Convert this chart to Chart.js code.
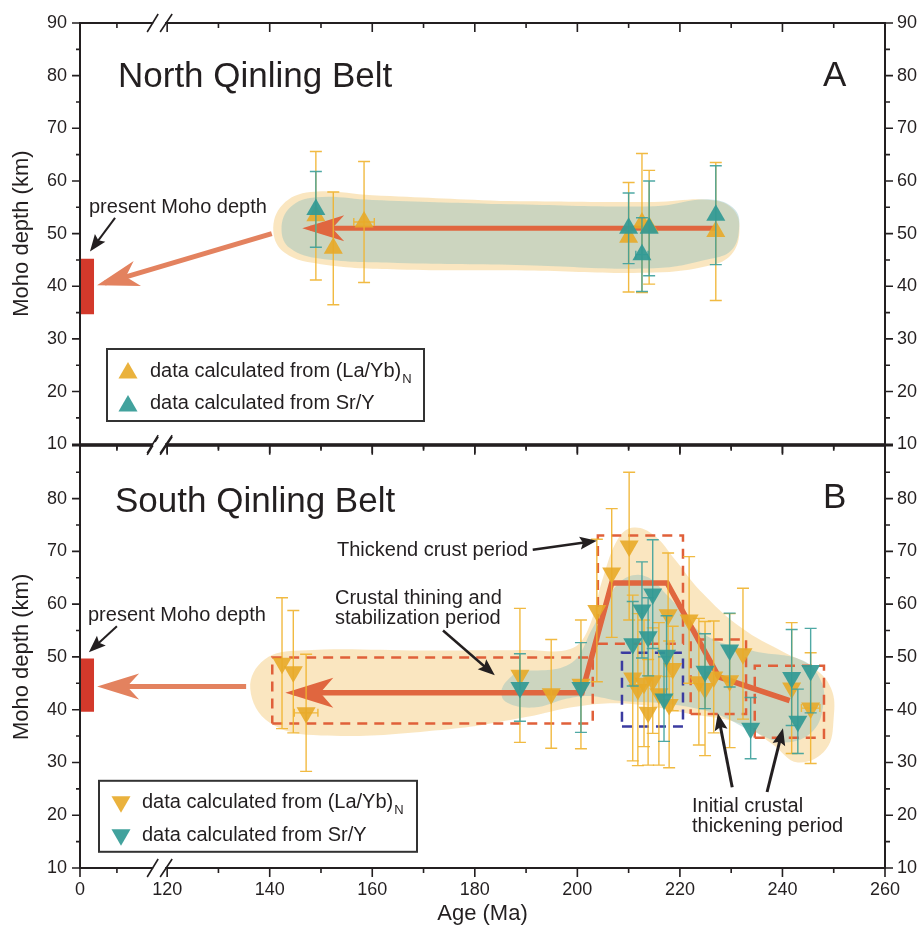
<!DOCTYPE html>
<html>
<head>
<meta charset="utf-8">
<script src="https://cdn.jsdelivr.net/npm/chart.js@4.4.0/dist/chart.umd.min.js"></script>
<style>
  html, body { margin: 0; padding: 0; background: #fff; }
  #wrap { position: relative; width: 921px; height: 937px; }
  canvas { position: absolute; left: 0; }
  #cA { top: 0; }
  #cB { top: 430px; }
</style>
</head>
<body>
<div id="wrap">
  <canvas id="cB" width="921" height="507"></canvas>
  <canvas id="cA" width="921" height="460"></canvas>
</div>
<script>
// ---- axis ticks ----
const xTickAges  = [0, 120, 140, 160, 180, 200, 220, 240, 260];
const xMinorAges = [10, 130, 150, 170, 190, 210, 230, 250];
const yTicks     = [10, 20, 30, 40, 50, 60, 70, 80, 90];
const yMinor     = [15, 25, 35, 45, 55, 65, 75, 85];

// ---- North Qinling Belt (A) ----
const nqLaAge    = [149.0, 152.4, 158.4, 210.0, 212.6, 214.0, 227.0];
const nqLaDepth  = [53.4, 47.2, 52.2, 49.3, 52.0, 51.2, 50.4];
const nqLaErr    = [12.2, 10.7, 11.5, 10.4, 13.2, 10.8, 13.1];
const nqLaAgeErr = [0, 0, 2.0, 0, 0, 0, 0];
const nqSrAge    = [149.0, 210.0, 212.6, 214.0, 227.0];
const nqSrDepth  = [54.6, 51.0, 46.0, 51.0, 53.5];
const nqSrErr    = [7.2, 6.7, 7.0, 9.0, 9.4];
const nqSrAgeErr = [0, 0, 1.2, 0, 0];
const nqTrendAge   = [227.0, 147.9];
const nqTrendDepth = [51.0, 51.0];
const nqPresent    = [34.7, 45.2];          // present Moho depth range
const nqArrowAge   = [140.4, 6.7];
const nqArrowDepth = [50.0, 40.6];
const nqBlobLa = [[185,56.2],[215,56.0],[226,56.4],[230.5,54.5],[231.6,50.2],[230,46],[226,44],[215,42.6],[190,43.0],
                  [165,43.2],[150,44.2],[143,46.3],[140.7,50.5],[142.5,55.5],[148,57.9],[160,57.3],[185,56.2]];
const nqBlobSr = [[185,55.6],[215,55.2],[226,56.5],[230.8,54.5],[231.5,50.5],[230,46.8],[226,45.2],[215,43.4],[190,44.0],
                  [165,44.4],[150,45.2],[144,47.2],[142.3,50.8],[144,55],[149,56.9],[160,56.4],[185,55.6]];

// ---- South Qinling Belt (B) ----
const sqLaAge    = [142.4, 144.6, 147.1, 188.8, 194.9, 200.7, 203.8, 206.7, 210.1, 210.8, 211.8, 213.0, 213.8, 214.7,
                    215.9, 217.7, 217.9, 218.6, 221.8, 223.7, 224.9, 226.6, 229.7, 232.3, 241.8, 245.5];
const sqLaDepth  = [48.8, 47.2, 39.4, 46.5, 43.0, 44.8, 58.8, 65.9, 71.0, 46.0, 43.8, 45.0, 39.5, 45.5,
                    43.0, 58.0, 41.0, 47.8, 57.0, 45.3, 44.0, 46.2, 45.5, 50.6, 44.1, 40.3];
const sqLaErr    = [12.4, 11.6, 11.1, 12.7, 10.3, 12.2, 13.5, 12.2, 14.0, 15.7, 14.4, 12.0, 10.0, 10.0,
                    13.5, 11.7, 12.0, 8.0, 12.0, 12.0, 12.7, 10.6, 12.7, 12.4, 12.4, 10.5];
const sqLaAgeErr = [0, 0, 2.3, 0, 0, 0, 0, 0, 0, 0, 0, 0, 0, 0, 0, 0, 0, 0, 0, 0, 0, 0, 0, 0, 0, 1.8];
const sqSrAge    = [188.8, 200.7, 210.8, 212.6, 213.8, 214.7, 216.9, 217.4, 224.9, 229.7, 233.8, 241.8, 243.0, 245.5];
const sqSrDepth  = [44.2, 44.2, 52.5, 58.9, 53.8, 61.9, 42.0, 50.3, 47.3, 51.3, 36.5, 46.1, 37.8, 47.4];
const sqSrErr    = [6.4, 8.5, 8.0, 9.1, 7.4, 10.3, 8.0, 7.5, 7.1, 7.0, 5.8, 9.1, 6.1, 8.0];
const sqTrendAge   = [241.4, 227.6, 217.5, 206.7, 200.9, 144.6];
const sqTrendDepth = [41.7, 46.2, 64.0, 64.0, 43.2, 43.2];
const sqPresent    = [39.6, 49.7];
const sqArrowAge   = [135.4, 6.8];
const sqArrowDepth = [44.4, 44.4];
// period boxes: [age from, age to, depth from, depth to]
const sqPeriodBoxes = [[140.5, 203.0, 37.4, 49.9], [204.0, 220.6, 52.5, 73.0], [222.1, 232.9, 39.2, 53.3], [234.6, 248.1, 34.7, 48.3]];
const sqBlueBox     = [208.7, 220.6, 36.8, 50.8];
const sqBlobLa = [[170,51.2],[190,51.3],[198.6,51.5],[202,55],[205,65],[208,72.5],[211,74.5],[215,73],[219,68.5],[224,62.5],
                  [232,55.5],[240,51],[246,48],[249.5,44],[250,38.5],[248.5,32.5],[243,30],[238,33.5],[232,37.3],[222,39.2],
                  [210,41.1],[200,40.6],[190,38.6],[175,36.3],[150,35.1],[140,37.5],[136.2,44],[139,49.5],[146,51.2],[170,51.2]];
const sqBlobSr = [[188,47.2],[198.6,48.7],[203,55.5],[208,63.9],[213,65.4],[218,61.2],[224.5,54.4],[234,51.2],[244,49.3],
                  [247.5,45.5],[248,41.1],[246,36],[240.5,33.8],[234,36],[227,39.2],[217.5,41.1],[208,41.7],[202.5,42.6],
                  [198,42.1],[191.5,40.4],[186,41.5],[185.3,44],[188,47.2]];

const FONT = "'Liberation Sans', Arial, Helvetica, sans-serif";
const INK = '#231f20';
const YEL = 'rgba(232,170,40,0.9)', YEL_ERR = 'rgba(240,178,45,0.9)';
const TEA = 'rgba(50,154,149,0.92)', TEA_ERR = 'rgba(60,160,155,0.9)';
const MARK = 11;

// broken axis: 0..~20 Ma squeezed in front of 120 Ma
const X = age => (age < 60 ? 103 + age * 0.72 : age);
const pts = (ages, depths) => ages.map((a, i) => ({ x: X(a), y: depths[i] }));
const loop = list => list.map(([a, d]) => ({ x: X(a), y: d }));
const rect = ([a0, a1, d0, d1]) => [
  { x: X(a0), y: d0 }, { x: X(a1), y: d0 }, { x: X(a1), y: d1 }, { x: X(a0), y: d1 }, { x: X(a0), y: d0 }];

function arrowHead(c, from, to, h, color) {
  const dx = to.x - from.x, dy = to.y - from.y, L = Math.hypot(dx, dy);
  const ux = dx / L, uy = dy / L, nx = -uy, ny = ux;
  const tx = to.x + ux * h.over, ty = to.y + uy * h.over;
  const bx = tx - ux * h.len, by = ty - uy * h.len;
  const mx = tx - ux * (h.len - h.notch), my = ty - uy * (h.len - h.notch);
  c.save();
  c.fillStyle = color;
  c.beginPath();
  c.moveTo(tx, ty);
  c.lineTo(bx + nx * h.half, by + ny * h.half);
  c.lineTo(mx, my);
  c.lineTo(bx - nx * h.half, by - ny * h.half);
  c.closePath();
  c.fill();
  c.restore();
}

function frame(chart) {
  const c = chart.ctx, a = chart.chartArea, xs = chart.scales.x, ys = chart.scales.y;
  c.save();
  c.strokeStyle = INK;
  c.lineWidth = 2;
  c.strokeRect(a.left, a.top, a.right - a.left, a.bottom - a.top);
  c.lineWidth = 1.6;
  c.beginPath();
  const seg = (x0, y0, x1, y1) => { c.moveTo(x0, y0); c.lineTo(x1, y1); };
  xTickAges.forEach(v => { const x = xs.getPixelForValue(X(v)); seg(x, a.top, x, a.top + 9); seg(x, a.bottom, x, a.bottom + 9); });
  xMinorAges.forEach(v => { const x = xs.getPixelForValue(X(v)); seg(x, a.top, x, a.top + 5); seg(x, a.bottom, x, a.bottom + 5); });
  yTicks.forEach(v => { const y = ys.getPixelForValue(v); seg(a.left - 8, y, a.left, y); seg(a.right, y, a.right + 8, y); });
  yMinor.forEach(v => { const y = ys.getPixelForValue(v); seg(a.left - 4, y, a.left, y); seg(a.right, y, a.right + 5, y); });
  c.stroke();
  // axis break marks
  const bx = xs.getPixelForValue(120) - 8;
  [a.top, a.bottom].forEach(y => {
    c.fillStyle = '#fff';
    c.fillRect(bx - 6, y - 2, 12, 4);
    c.beginPath();
    seg(bx - 12, y + 9, bx - 1, y - 9);
    seg(bx + 1, y + 9, bx + 13, y - 9);
    c.stroke();
  });
  c.restore();
}

function notes(chart, p) {
  const c = chart.ctx, a = chart.chartArea, xs = chart.scales.x, ys = chart.scales.y;
  c.save();
  c.fillStyle = INK;
  c.textBaseline = 'alphabetic';
  p.texts.forEach(t => {
    c.font = t.font;
    c.fillText(t.s, a.left + t.dx, a.top + t.dy);
  });
  // black pointer arrows (given in age/depth)
  p.pointers.forEach(pt => {
    const from = { x: xs.getPixelForValue(X(pt.from[0])), y: ys.getPixelForValue(pt.from[1]) };
    const to = { x: xs.getPixelForValue(X(pt.to[0])), y: ys.getPixelForValue(pt.to[1]) };
    const L = Math.hypot(to.x - from.x, to.y - from.y);
    const ux = (to.x - from.x) / L, uy = (to.y - from.y) / L;
    c.strokeStyle = INK;
    c.lineWidth = pt.w;
    c.beginPath();
    c.moveTo(from.x, from.y);
    c.lineTo(to.x - ux * 9, to.y - uy * 9);
    c.stroke();
    arrowHead(c, from, to, { len: 17, half: 6.5, notch: 3, over: 0 }, INK);
  });
  // legend
  const lg = p.legend;
  const lx = a.left + lg.dx, ly = a.top + lg.dy;
  c.fillStyle = '#fff';
  c.fillRect(lx, ly, lg.w, lg.h);
  c.strokeStyle = '#333';
  c.lineWidth = 2;
  c.strokeRect(lx, ly, lg.w, lg.h);
  [[YEL, 'data calculated from (La/Yb)', true], [TEA, 'data calculated from Sr/Y', false]].forEach((row, i) => {
    c.fillStyle = row[0];
    Chart.helpers.drawPoint(c, { pointStyle: 'triangle', radius: MARK, rotation: p.rot, borderWidth: 0 },
      lx + lg.mx, ly + lg.my[i]);
    c.fillStyle = INK;
    c.font = '20px ' + FONT;
    c.fillText(row[1], lx + lg.tx, ly + lg.ty[i]);
    if (row[2]) {
      const w = c.measureText(row[1]).width;
      c.font = '13px ' + FONT;
      c.fillText('N', lx + lg.tx + w + 1, ly + lg.ty[i] + 6);
    }
  });
  c.restore();
}

function decor(p) {
  return {
    id: 'decor',
    beforeDatasetDraw(chart, args) {
      const ds = chart.data.datasets[args.index];
      if (!ds.errY) return;
      const c = chart.ctx, ys = chart.scales.y, xs = chart.scales.x;
      c.save();
      c.strokeStyle = ds.errColor;
      c.lineWidth = 1.4;
      args.meta.data.forEach((el, i) => {
        const v = ds.data[i];
        const t = ys.getPixelForValue(v.y + ds.errY[i]);
        const b = ys.getPixelForValue(v.y - ds.errY[i]);
        c.beginPath();
        c.moveTo(el.x, t); c.lineTo(el.x, b);
        c.moveTo(el.x - 6, t); c.lineTo(el.x + 6, t);
        c.moveTo(el.x - 6, b); c.lineTo(el.x + 6, b);
        if (ds.errX && ds.errX[i]) {
          const l = xs.getPixelForValue(v.x - ds.errX[i]), r = xs.getPixelForValue(v.x + ds.errX[i]);
          c.moveTo(l, el.y); c.lineTo(r, el.y);
          c.moveTo(l, el.y - 4); c.lineTo(l, el.y + 4);
          c.moveTo(r, el.y - 4); c.lineTo(r, el.y + 4);
        }
        c.stroke();
      });
      c.restore();
    },
    afterDatasetDraw(chart, args) {
      const ds = chart.data.datasets[args.index];
      if (!ds.head) return;
      const el = args.meta.data, n = el.length;
      arrowHead(chart.ctx, el[n - 2], el[n - 1], ds.head, ds.borderColor);
    },
    afterDatasetsDraw(chart) { frame(chart); },
    afterDraw(chart) { notes(chart, p); }
  };
}

function blob(list, color, order) {
  return { data: loop(list), showLine: true, fill: 'shape', backgroundColor: color, borderColor: 'transparent',
           borderWidth: 0, pointRadius: 0, tension: 0.4, order };
}

function line(data, color, width, order, extra) {
  return Object.assign({ data, showLine: true, fill: false, borderColor: color, borderWidth: width,
                         borderCapStyle: 'butt', pointRadius: 0, tension: 0, order }, extra || {});
}

function points(ages, depths, err, ageErr, color, errColor, rot, order) {
  return { data: pts(ages, depths), errY: err, errX: ageErr, errColor, showLine: false,
           pointStyle: 'triangle', pointRadius: MARK, pointRotation: rot, pointBackgroundColor: color,
           pointBorderWidth: 0, order };
}

function buildPanel(p) {
  const tickFont = { family: FONT, size: 18 };
  const yLabel = v => (p.hideTop && v === 90 ? null : v);
  new Chart(document.getElementById(p.canvas), {
    type: 'scatter',
    data: { datasets: p.datasets },
    options: {
      responsive: false, animation: false, events: [],
      layout: { autoPadding: false, padding: { top: p.padTop, bottom: 0, left: 0, right: 0 } },
      plugins: { legend: { display: false }, tooltip: { enabled: false } },
      scales: {
        x: {
          type: 'linear', min: 103, max: 260,
          grid: { display: false }, border: { display: false },
          afterBuildTicks: s => { s.ticks = xTickAges.map(a => ({ value: X(a) })); },
          afterFit: s => { s.height = p.xHeight; },
          ticks: {
            display: p.showX, autoSkip: false, maxRotation: 0, padding: 3, font: tickFont, color: INK,
            callback: v => { const a = xTickAges.find(t => Math.abs(X(t) - v) < 1e-6); return a === undefined ? '' : String(a); }
          },
          title: { display: p.showX, text: 'Age (Ma)', font: { family: FONT, size: 22 }, color: INK, padding: { top: 10, bottom: 10 } }
        },
        y: {
          type: 'linear', position: 'left', min: 10, max: 90,
          grid: { display: false }, border: { display: false },
          afterFit: s => { s.width = 80; },
          ticks: { stepSize: 10, padding: 5, font: tickFont, color: INK, callback: yLabel },
          title: { display: true, text: 'Moho depth (km)', font: { family: FONT, size: 22 }, color: INK, padding: { top: 9, bottom: 0 } }
        },
        y2: {
          type: 'linear', axis: 'y', position: 'right', min: 10, max: 90,
          grid: { display: false }, border: { display: false },
          afterFit: s => { s.width = 36; },
          ticks: { stepSize: 10, padding: 4, font: tickFont, color: INK, callback: yLabel }
        }
      }
    },
    plugins: [decor(p)]
  });
}

const titleFont = '35px ' + FONT;
const noteFont = '20px ' + FONT;

// ---- panel A ----
buildPanel({
  canvas: 'cA', padTop: 23, xHeight: 15, showX: false, hideTop: false, rot: 0,
  datasets: [
    points(nqSrAge, nqSrDepth, nqSrErr, nqSrAgeErr, TEA, TEA_ERR, 0, 0),
    points(nqLaAge, nqLaDepth, nqLaErr, nqLaAgeErr, YEL, YEL_ERR, 0, 1),
    line(pts(nqTrendAge, nqTrendDepth), '#e0663f', 5, 2, { head: { len: 42, half: 13, notch: 12, over: 8 } }),
    line(pts(nqArrowAge, nqArrowDepth), '#e3825f', 5, 3, { head: { len: 42, half: 13, notch: 12, over: 8 } }),
    line(pts([1.9, 1.9], nqPresent), '#d3392b', 14, 3),
    blob(nqBlobSr, 'rgba(140,190,190,0.42)', 5),
    blob(nqBlobLa, 'rgba(247,214,150,0.6)', 6)
  ],
  texts: [
    { s: 'North Qinling Belt', font: titleFont, dx: 38, dy: 64 },
    { s: 'A', font: titleFont, dx: 743, dy: 63 },
    { s: 'present Moho depth', font: noteFont, dx: 9, dy: 190 }
  ],
  pointers: [{ from: [9.5, 53.0], to: [2.7, 46.6], w: 2 }],
  legend: { dx: 27, dy: 326, w: 317, h: 72, mx: 21, my: [24, 57], tx: 43, ty: [28, 60] }
});

// ---- panel B ----
buildPanel({
  canvas: 'cB', padTop: 15, xHeight: 69, showX: true, hideTop: true, rot: 180,
  datasets: [
    points(sqSrAge, sqSrDepth, sqSrErr, null, TEA, TEA_ERR, 180, 0),
    points(sqLaAge, sqLaDepth, sqLaErr, sqLaAgeErr, YEL, YEL_ERR, 180, 1),
    line(pts(sqTrendAge, sqTrendDepth), '#e0663f', 5.5, 2, { head: { len: 48, half: 15, notch: 13, over: 8 } }),
    line(pts(sqArrowAge, sqArrowDepth), '#e3825f', 5, 3, { head: { len: 42, half: 13, notch: 12, over: 8 } }),
    line(pts([1.9, 1.9], sqPresent), '#d3392b', 14, 3),
    ...sqPeriodBoxes.map(b => line(rect(b), '#e0603a', 2.5, 4, { borderDash: [10, 7] })),
    line(rect(sqBlueBox), '#3b3ba0', 2.5, 4, { borderDash: [10, 7] }),
    blob(sqBlobSr, 'rgba(140,190,190,0.42)', 5),
    blob(sqBlobLa, 'rgba(247,214,150,0.6)', 6)
  ],
  texts: [
    { s: 'South Qinling Belt', font: titleFont, dx: 35, dy: 66 },
    { s: 'B', font: titleFont, dx: 743, dy: 62 },
    { s: 'present Moho depth', font: noteFont, dx: 8, dy: 175 },
    { s: 'Thickend crust period', font: noteFont, dx: 257, dy: 110 },
    { s: 'Crustal thining and', font: noteFont, dx: 255, dy: 158 },
    { s: 'stabilization period', font: noteFont, dx: 255, dy: 178 },
    { s: 'Initial crustal', font: noteFont, dx: 612, dy: 366 },
    { s: 'thickening period', font: noteFont, dx: 612, dy: 386 }
  ],
  pointers: [
    { from: [10.0, 55.8], to: [2.4, 50.9], w: 2 },
    { from: [191.3, 70.3], to: [203.8, 72.0], w: 2.5 },
    { from: [173.8, 55.0], to: [183.9, 46.5], w: 2.5 },
    { from: [230.2, 25.3], to: [227.4, 39.3], w: 3 },
    { from: [237.0, 24.4], to: [240.1, 36.5], w: 3 }
  ],
  legend: { dx: 19, dy: 335, w: 318, h: 71, mx: 22, my: [21, 54], tx: 43, ty: [27, 60] }
});
</script>
</body>
</html>
